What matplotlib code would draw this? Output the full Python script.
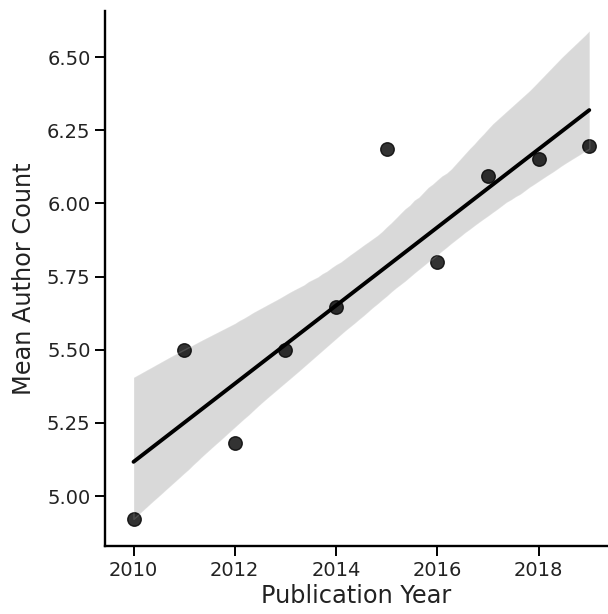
import numpy as np
import pandas as pd
import matplotlib
matplotlib.use("Agg")
import matplotlib.pyplot as plt
import seaborn as sns

years = [2010, 2011, 2012, 2013, 2014, 2015, 2016, 2017, 2018, 2019]
mean_authors = [4.922, 5.50, 5.183, 5.50, 5.647, 6.185, 5.80, 6.092, 6.153, 6.197]

df = pd.DataFrame({"Publication Year": years, "Mean Author Count": mean_authors})

sns.set_style("ticks")
plt.rcParams['font.family'] = ['DejaVu Sans']

fig = plt.figure(figsize=(6.08, 6.14), dpi=100)
ax = fig.add_axes([0.173, 0.11, 0.827, 0.872])

np.random.seed(3)
sns.regplot(x="Publication Year", y="Mean Author Count", data=df, ax=ax,
            color="black", n_boot=1000, seed=3,
            scatter_kws={"s": 95, "alpha": 0.8},
            line_kws={"lw": 2.8})

ax.set_xlim(2009.44, 2019.37)
ax.set_ylim(4.828, 6.657)
ax.set_xticks([2010, 2012, 2014, 2016, 2018])
ax.set_yticks([5.00, 5.25, 5.50, 5.75, 6.00, 6.25, 6.50])
ax.set_yticklabels(["5.00", "5.25", "5.50", "5.75", "6.00", "6.25", "6.50"])
ax.tick_params(labelsize=14, length=7, width=1.4, colors="black", labelcolor="#222222")
ax.set_xlabel("Publication Year", fontsize=17.3, labelpad=3, color="#222222")
ax.set_ylabel("Mean Author Count", fontsize=17.3, labelpad=8, color="#222222")
for side in ["top", "right"]:
    ax.spines[side].set_visible(False)
for side in ["left", "bottom"]:
    ax.spines[side].set_linewidth(1.7)
    ax.spines[side].set_color("black")

fig.savefig("out.png", dpi=100)
